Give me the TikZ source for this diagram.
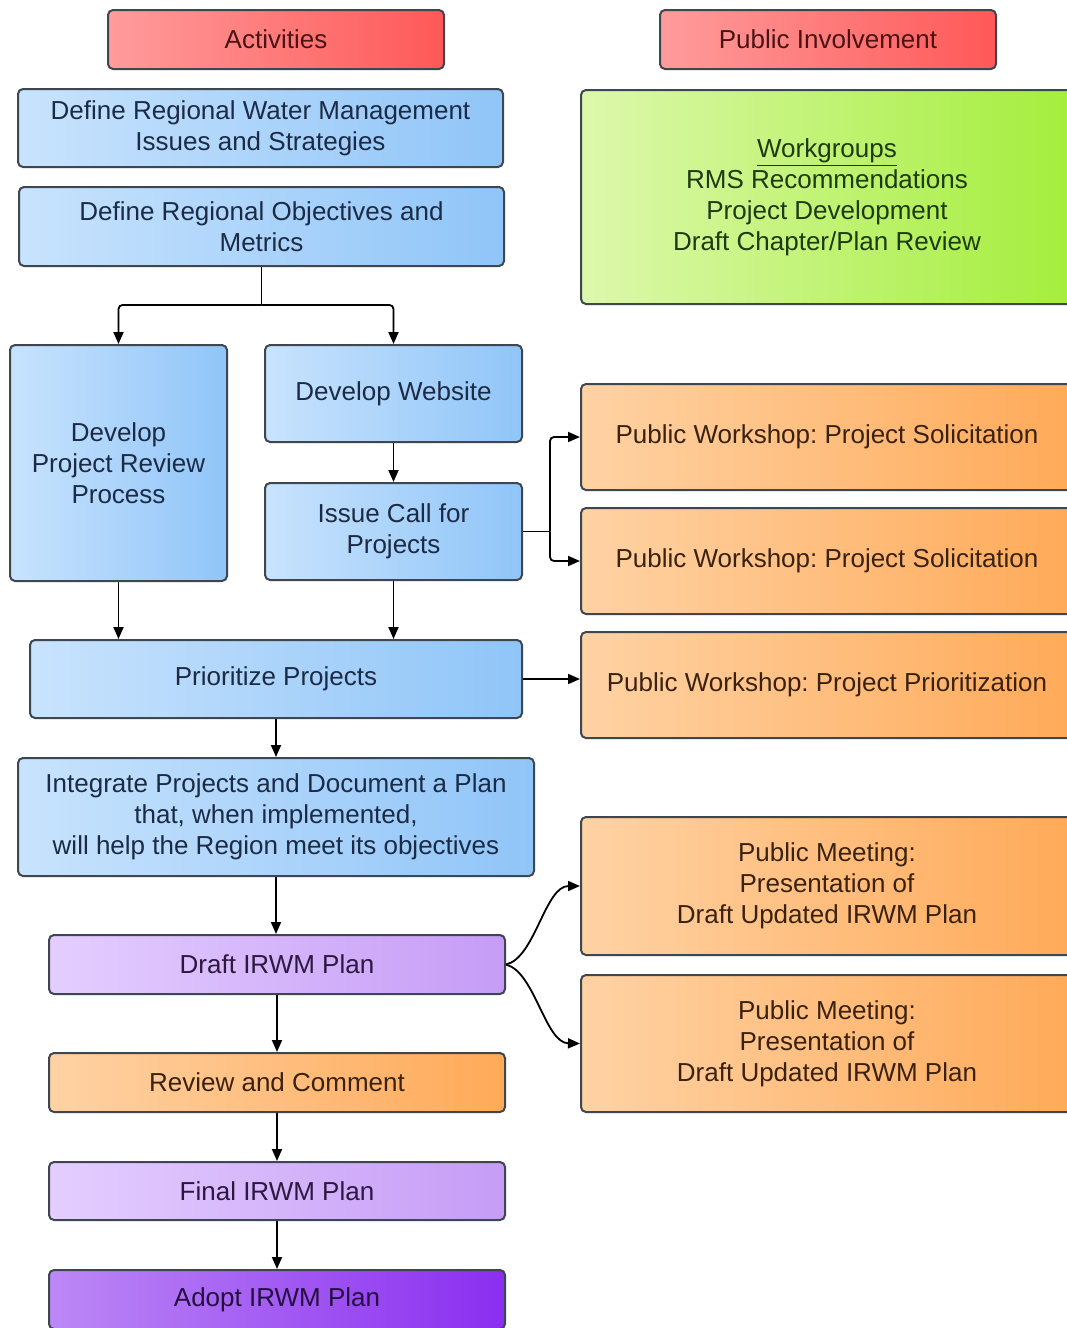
\documentclass[tikz,border=0pt]{standalone}
\usepackage{fontspec}
\setmainfont{Liberation Sans}
\frenchspacing
\usetikzlibrary{arrows.meta}
\definecolor{bordc}{HTML}{3E4650}
\definecolor{redL}{HTML}{FF9C9C}
\definecolor{redR}{HTML}{FF5858}
\definecolor{redT}{HTML}{4A1414}
\definecolor{bluL}{HTML}{C8E3FD}
\definecolor{bluR}{HTML}{90C5F8}
\definecolor{bluT}{HTML}{1C2B45}
\definecolor{grnL}{HTML}{DDF8AC}
\definecolor{grnR}{HTML}{A4EE3C}
\definecolor{grnT}{HTML}{1E3A10}
\definecolor{orgL}{HTML}{FFD2A4}
\definecolor{orgR}{HTML}{FFAA58}
\definecolor{orgT}{HTML}{3A2210}
\definecolor{lavL}{HTML}{E4CEFF}
\definecolor{lavR}{HTML}{C69CF6}
\definecolor{lavT}{HTML}{2C1840}
\definecolor{adpL}{HTML}{BC88F6}
\definecolor{adpR}{HTML}{8A2EF0}
\definecolor{adpT}{HTML}{24103E}
\tikzset{
  base/.style={draw=bordc, line width=1pt, rounded corners=2.5pt, inner sep=0pt, align=center, font=\fontsize{13}{15.5}\selectfont},
  hdr/.style={base, left color=redL, right color=redR, text=redT},
  blu/.style={base, left color=bluL, right color=bluR, text=bluT},
  grn/.style={base, left color=grnL, right color=grnR, text=grnT},
  org/.style={base, left color=orgL, right color=orgR, text=orgT},
  lav/.style={base, left color=lavL, right color=lavR, text=lavT},
  adp/.style={base, left color=adpL, right color=adpR, text=adpT},
  arr/.style={-{Triangle[length=6pt,width=5pt]}, line width=0.9pt, black},
  lnk/.style={line width=0.9pt, black}
}
\begin{document}
\begin{tikzpicture}[x=0.5pt,y=-0.5pt]
\useasboundingbox (0,0) rectangle (1066,1328);
\fill[white] (0,0) rectangle (1066,1328);
% headers
\node[hdr, minimum width=168pt, minimum height=29.5pt] (act) at (276,39.5) {Activities};
\node[hdr, minimum width=168pt, minimum height=29.5pt] (pub) at (828,39.5) {Public Involvement};
% left column
\node[blu, minimum width=242.5pt, minimum height=39pt] (iss) at (260.5,128) {Define Regional Water Management\\Issues and Strategies};
\node[blu, minimum width=242.5pt, minimum height=39.5pt] (obj) at (261.5,226.5) {Define Regional Objectives and\\Metrics};
\node[blu, minimum width=108.5pt, minimum height=118pt] (dprp) at (118.5,463) {Develop\\Project Review\\Process};
\node[blu, minimum width=128.5pt, minimum height=48.5pt] (web) at (393.5,393.5) {Develop Website};
\node[blu, minimum width=128.5pt, minimum height=48.5pt] (call) at (393.5,531.5) {Issue Call for\\Projects};
\node[blu, minimum width=246pt, minimum height=39pt] (prio) at (276,679) {Prioritize Projects};
\node[blu, minimum width=258pt, minimum height=59pt] (integ) at (276,817) {Integrate Projects and Document a Plan\\that, when implemented,\\will help the Region meet its objectives};
\node[lav, minimum width=228pt, minimum height=29.5pt] (draft) at (277,964.5) {Draft IRWM Plan};
\node[org, minimum width=228pt, minimum height=29.5pt] (rev) at (277,1082.5) {Review and Comment};
\node[lav, minimum width=228pt, minimum height=29pt] (final) at (277,1191) {Final IRWM Plan};
\node[adp, minimum width=228pt, minimum height=29.5pt] (adopt) at (277,1299.5) {Adopt IRWM Plan};
% right column
\node[grn, minimum width=246pt, minimum height=107pt] (wg) at (827,197) {\underline{Workgroups}\\RMS Recommendations\\Project Development\\Draft Chapter/Plan Review};
\node[org, minimum width=246pt, minimum height=53pt] (pw1) at (827,437) {Public Workshop: Project Solicitation};
\node[org, minimum width=246pt, minimum height=53pt] (pw2) at (827,561) {Public Workshop: Project Solicitation};
\node[org, minimum width=246pt, minimum height=53pt] (pw3) at (827,685) {Public Workshop: Project Prioritization};
\node[org, minimum width=246pt, minimum height=69pt] (pm1) at (827,886) {Public Meeting:\\Presentation of\\Draft Updated IRWM Plan};
\node[org, minimum width=246pt, minimum height=68.5pt] (pm2) at (827,1043.5) {Public Meeting:\\Presentation of\\Draft Updated IRWM Plan};
% connectors
\coordinate (sp) at (261.5,305);
\coordinate (cs) at (550,531.5);
\draw[lnk] (obj.south) -- (sp);
\draw[arr, rounded corners=2pt] (sp) -| (dprp.north);
\draw[arr, rounded corners=2pt] (sp) -| (web.north);
\draw[arr] (web.south) -- (call.north);
\draw[lnk] (call.east) -- (cs);
\draw[arr, rounded corners=2pt] (cs) |- (pw1.west);
\draw[arr, rounded corners=2pt] (cs) |- (pw2.west);
\draw[arr] (dprp.south) -- (dprp.south |- prio.north);
\draw[arr] (call.south) -- (call.south |- prio.north);
\draw[arr] (prio.east) -- (prio.east -| pw3.west);
\draw[arr] (prio.south) -- (prio.south |- integ.north);
\draw[arr] (integ.south) -- (integ.south |- draft.north);
\draw[arr] (draft.east) .. controls (535,958) and (545,886) .. (pm1.west);
\draw[arr] (draft.east) .. controls (535,972) and (545,1043) .. (pm2.west);
\draw[arr] (draft.south) -- (rev.north);
\draw[arr] (rev.south) -- (final.north);
\draw[arr] (final.south) -- (adopt.north);
\end{tikzpicture}
\end{document}
